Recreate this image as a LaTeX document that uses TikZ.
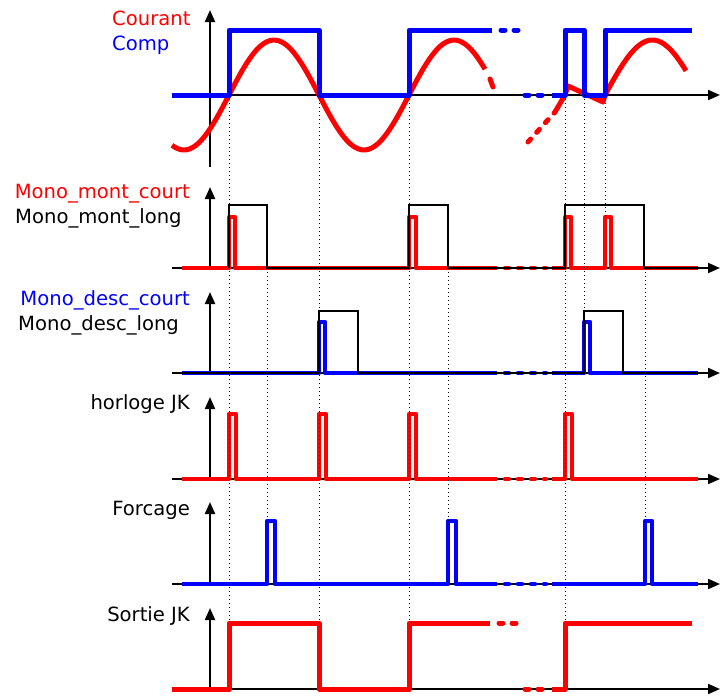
\documentclass[tikz,border=0pt]{standalone}
\usepackage{fontspec}
\setmainfont{DejaVu Sans}
\usetikzlibrary{arrows.meta}

\tikzset{
  axis/.style={black,line width=2pt,-{Triangle[length=12pt,width=10pt]}},
  redsig/.style={red,line width=4.5pt,line join=round},
  bluesig/.style={blue,line width=4.5pt,line join=round},
  longpulse/.style={black,line width=2pt},
  gap/.style={dash pattern=on 4pt off 9pt,line cap=round},
  guide/.style={black,line width=1pt,dash pattern=on 1pt off 3pt},
  lbl/.style={font=\fontsize{19.6}{22}\selectfont,inner sep=0pt},
}

\begin{document}
\begin{tikzpicture}[x=1pt,y=-1pt]
\useasboundingbox (0,0) rectangle (721,697);
% axes
\draw[axis] (172,95) -- (720,95);
\draw[axis] (210,167) -- (210,10);
\foreach \b/\t in {268/187,373/292,479/397,584/502,689/608} {
  \draw[axis] (172,\b) -- (720,\b);
  \draw[axis] (210,\b) -- (210,\t);
}
% Courant
\draw[redsig,line width=5pt,domain=172:485,samples=90,smooth] plot (\x,{95-55*sin(2*(\x-229))});
\draw[redsig,line width=5pt,line cap=round] (490,79) -- (493,87);
\draw[redsig,line width=5pt,gap] (528,142) -- (555,112);
\draw[redsig,line width=5pt] (555,112) -- (565,95) -- (568,86) -- (603,102)
  -- plot[domain=605:686,samples=40,smooth] (\x,{95-55*sin(1.9*(\x-605))});
% Comp
\draw[bluesig,line width=5pt] (172,95) -- (229,95) -- (229,30) -- (319,30) -- (319,95)
  -- (409,95) -- (409,30) -- (492,30);
\draw[bluesig,line width=5pt,gap] (501,30) -- (520,30);
\draw[bluesig,line width=5pt,gap] (525,95) -- (545,95);
\draw[bluesig,line width=5pt] (552,95) -- (565,95) -- (565,30) -- (584,30) -- (584,95)
  -- (605,95) -- (605,30) -- (692,30);
% Mono_mont
\draw[redsig] (182,268) -- (229,268) -- (229,217) -- (235,217) -- (235,268) -- (409,268)
  -- (409,217) -- (416,217) -- (416,268) -- (497,268);
\draw[redsig,gap] (505,268) -- (546,268);
\draw[redsig] (552,268) -- (565,268) -- (565,217) -- (571,217) -- (571,268) -- (605,268)
  -- (605,217) -- (611,217) -- (611,268) -- (698,268);
\draw[longpulse] (229,268) -- (229,205) -- (267,205) -- (267,268) -- (409,268)
  -- (409,205) -- (448,205) -- (448,268) -- (565,268) -- (565,205) -- (644,205)
  -- (644,268) -- (698,268);
% Mono_desc
\draw[bluesig] (182,373) -- (319,373) -- (319,322) -- (325,322) -- (325,373) -- (497,373);
\draw[bluesig,gap] (505,373) -- (546,373);
\draw[bluesig] (552,373) -- (584,373) -- (584,322) -- (590,322) -- (590,373) -- (698,373);
\draw[longpulse] (182,373) -- (319,373) -- (319,311) -- (358,311) -- (358,373) -- (584,373)
  -- (584,311) -- (623,311) -- (623,373) -- (698,373);
% horloge JK
\draw[redsig] (182,479) -- (229,479) -- (229,414) -- (236,414) -- (236,479) -- (319,479)
  -- (319,414) -- (326,414) -- (326,479) -- (409,479) -- (409,414) -- (416,414)
  -- (416,479) -- (497,479);
\draw[redsig,gap] (505,479) -- (546,479);
\draw[redsig] (552,479) -- (565,479) -- (565,414) -- (572,414) -- (572,479) -- (698,479);
% Forcage
\draw[bluesig] (182,584) -- (267,584) -- (267,521) -- (275,521) -- (275,584) -- (448,584)
  -- (448,521) -- (456,521) -- (456,584) -- (497,584);
\draw[bluesig,gap] (505,584) -- (546,584);
\draw[bluesig] (552,584) -- (645,584) -- (645,521) -- (652,521) -- (652,584) -- (698,584);
% Sortie JK
\draw[redsig,line width=5pt] (172,689) -- (229,689) -- (229,623) -- (319,623) -- (319,689)
  -- (409,689) -- (409,623) -- (490,623);
\draw[redsig,line width=5pt,gap] (499,623) -- (521,623);
\draw[redsig,line width=5pt,gap] (525,689) -- (545,689);
\draw[redsig,line width=5pt] (552,689) -- (565,689) -- (565,623) -- (692,623);
% guides
\foreach \x in {229,319,409,565} \draw[guide] (\x,95) -- (\x,623);
\foreach \x in {267,448,645} \draw[guide] (\x,268) -- (\x,521);
\draw[guide] (584,95) -- (584,311);
\draw[guide] (605,95) -- (605,217);
% labels
\node[lbl,red,anchor=base west] (courant) at (112,25) {Courant};
\node[lbl,blue,anchor=base west] (comp) at (112,50) {Comp};
\node[lbl,red,anchor=base east] (montcourt) at (190,198) {Mono\_mont\_court};
\node[lbl,anchor=base west] (montlong) at (15,223) {Mono\_mont\_long};
\node[lbl,blue,anchor=base east] (desccourt) at (190,305) {Mono\_desc\_court};
\node[lbl,anchor=base west] (desclong) at (18,330) {Mono\_desc\_long};
\node[lbl,anchor=base east] (horloge) at (190,409) {horloge JK};
\node[lbl,anchor=base east] (forcage) at (190,515) {Forcage};
\node[lbl,anchor=base east] (sortie) at (190,621) {Sortie JK};
\end{tikzpicture}
\end{document}
